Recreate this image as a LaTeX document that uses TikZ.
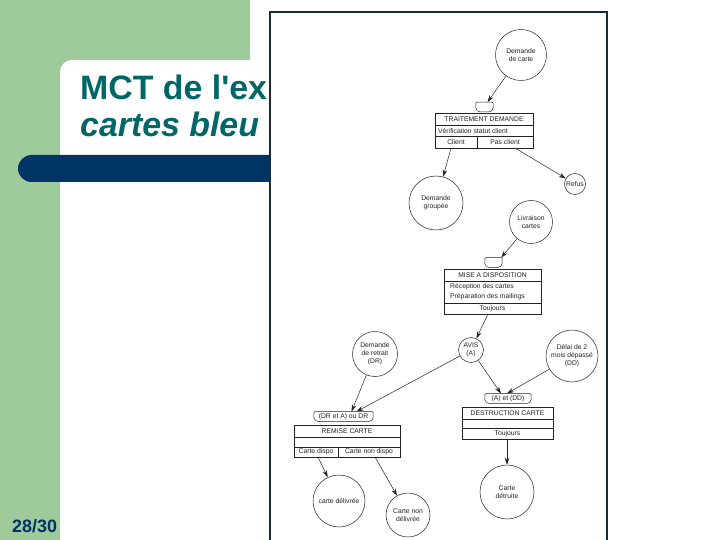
\documentclass[tikz,border=0pt]{standalone}
\usepackage{fontspec}
\setmainfont{Liberation Sans}
\usetikzlibrary{arrows.meta}
\definecolor{slgreen}{HTML}{9ECA9C}
\definecolor{titleteal}{HTML}{006666}
\definecolor{navy}{HTML}{003366}
\definecolor{framecol}{HTML}{1C2A33}
\definecolor{ink}{HTML}{222222}
\newcommand\dtext{\fontsize{6.8}{8}\selectfont}
\newcommand\tabsh[1]{\draw[ink, line width=0.5pt, rounded corners=1.2bp] (#1.north west) -- (#1.north east) -- ([yshift=3bp]#1.south east) -- ([xshift=-3bp]#1.south east) -- ([xshift=3bp]#1.south west) -- ([yshift=3bp]#1.south west) -- cycle;}
\begin{document}
\begin{tikzpicture}[x=1bp, y=-1bp,
  circ/.style={draw=ink, circle, inner sep=0pt, line width=0.5pt, align=center, font=\dtext, text=ink},
  tabn/.style={inner sep=0pt, minimum height=9.5bp, font=\dtext, text=ink},
  boxf/.style={draw=ink, line width=0.5pt, inner sep=0pt},
  lbl/.style={inner sep=0pt, font=\dtext, text=ink},
  cell/.style={draw=ink, line width=0.5pt},
  arr/.style={draw=ink, line width=0.5pt, -{Stealth[length=7bp,width=4.5bp]}}]
\useasboundingbox (0,0) rectangle (720,540);
% slide background
\fill[white] (0,0) rectangle (720,540);
\fill[slgreen] (0,0) rectangle (250,60);
\fill[slgreen] (0,0) rectangle (60,540);
\fill[slgreen] (60,60) rectangle (72,72);
\fill[white] (72,72) circle[radius=12bp];
\fill[navy, rounded corners=13.5bp] (18,155) rectangle (300,182);
\node[anchor=base west, inner sep=0pt, text=titleteal, font=\fontsize{34}{37}\selectfont\bfseries] (title1) at (80,100) {MCT de l\textquotesingle ex};
\node[anchor=base west, inner sep=0pt, text=titleteal, font=\fontsize{34}{37}\selectfont\bfseries\itshape] (title2) at (80,137) {cartes bleu};
\node[anchor=base west, inner sep=0pt, text=navy, font=\fontsize{18}{18}\selectfont\bfseries] (page) at (12,532) {28/30};
% picture frame
\draw[framecol, line width=1.1pt, fill=white] (270,12) rectangle (607,560);

% Demande de carte
\node[circ, minimum size=51bp] (dc) at (521,55) {Demande\\de carte};
\node[tabn, minimum width=17bp] (s1) at (484.5,107) {};
\tabsh{s1}
\draw[arr] (dc) -- ([xshift=3bp]s1.north);

% TRAITEMENT DEMANDE
\node[boxf, minimum width=98bp, minimum height=35bp] (td) at (484,130.5) {};
\draw[cell] (435,125) -- (533,125);
\draw[cell] (435,136.5) -- (533,136.5);
\draw[cell] (477,136.5) -- (477,148);
\node[lbl] (tdh) at (484,119.3) {TRAITEMENT DEMANDE};
\node[lbl, anchor=west] (tdv) at (438,130.8) {Vérification statut client};
\node[lbl] (tdc) at (456,142.3) {Client};
\node[lbl] (tdp) at (505,142.3) {Pas client};

\node[circ, minimum size=54bp] (dg) at (436,203) {Demande\\groupée};
\node[circ, minimum size=21bp] (rf) at (575,184) {Refus};
\coordinate (tdcb) at (451,148);
\coordinate (tdpb) at (515,148);
\draw[arr] (tdcb) -- (dg);
\draw[arr] (tdpb) -- (rf);

% Livraison cartes
\node[circ, minimum size=43bp] (lc) at (531,222) {Livraison\\cartes};
\node[tabn, minimum width=17bp] (s2) at (493.5,262.5) {};
\tabsh{s2}
\draw[arr] (lc) -- ([xshift=-1bp]s2.north east);

% MISE A DISPOSITION
\node[boxf, minimum width=97bp, minimum height=45bp] (md) at (492.5,291.5) {};
\draw[cell] (444,281) -- (541,281);
\draw[cell] (444,303) -- (541,303);
\node[lbl] (mdh) at (492.5,275.2) {MISE A DISPOSITION};
\node[lbl, anchor=west] (mdr) at (450,286.5) {Réception des cartes};
\node[lbl, anchor=west] (mdp) at (450,296.5) {Préparation des mailings};
\node[lbl] (mdt) at (492.5,308.6) {Toujours};
\coordinate (mdb) at (488,314);

% AVIS, DR, DD
\node[circ, minimum size=25bp] (av) at (471,350) {AVIS\\(A)};
\draw[arr] (mdb) -- (av);
\node[circ, minimum size=45bp] (dr) at (375,354) {Demande\\de retrait\\(DR)};
\node[circ, minimum size=52bp] (dd) at (572,356) {Délai de 2\\mois dépassé\\(DD)};

% tabs
\node[tabn, minimum width=59bp] (s3) at (343.5,416.5) {(DR et A) ou DR};
\tabsh{s3}
\node[tabn, minimum width=46bp] (s4) at (508,398.5) {(A) et (DD)};
\tabsh{s4}
\draw[arr] (dr) -- ([xshift=8bp]s3.north);
\draw[arr] (av) -- ([xshift=13bp]s3.north);
\draw[arr] (av) -- ([xshift=-7bp]s4.north);
\draw[arr] (dd) -- ([xshift=-1bp]s4.north);

% DESTRUCTION CARTE
\node[boxf, minimum width=91bp, minimum height=32bp] (dcx) at (507.5,423) {};
\draw[cell] (462,419) -- (553,419);
\draw[cell] (462,428) -- (553,428);
\node[lbl] (dch) at (507.5,413.2) {DESTRUCTION CARTE};
\node[lbl] (dct) at (507.5,433.6) {Toujours};
\coordinate (dcb) at (507,439);
\node[circ, minimum size=54bp] (cdt) at (507,492) {Carte\\détruite};
\draw[arr] (dcb) -- (cdt);

% REMISE CARTE
\node[boxf, minimum width=106bp, minimum height=32bp] (rc) at (347,441) {};
\draw[cell] (294,437) -- (400,437);
\draw[cell] (294,447) -- (400,447);
\draw[cell] (338,447) -- (338,457);
\node[lbl] (rch) at (347,431.2) {REMISE CARTE};
\node[lbl] (rcd) at (316,452.2) {Carte dispo};
\node[lbl] (rcn) at (369,452.2) {Carte non dispo};
\coordinate (rcdb) at (318,457);
\coordinate (rcnb) at (375,457);
\node[circ, minimum size=52bp] (cdl) at (339,501) {carte délivrée};
\node[circ, minimum size=44bp] (cnd) at (408,515) {Carte non\\délivrée};
\draw[arr] (rcdb) -- (cdl);
\draw[arr] (rcnb) -- (cnd);
\end{tikzpicture}
\end{document}
